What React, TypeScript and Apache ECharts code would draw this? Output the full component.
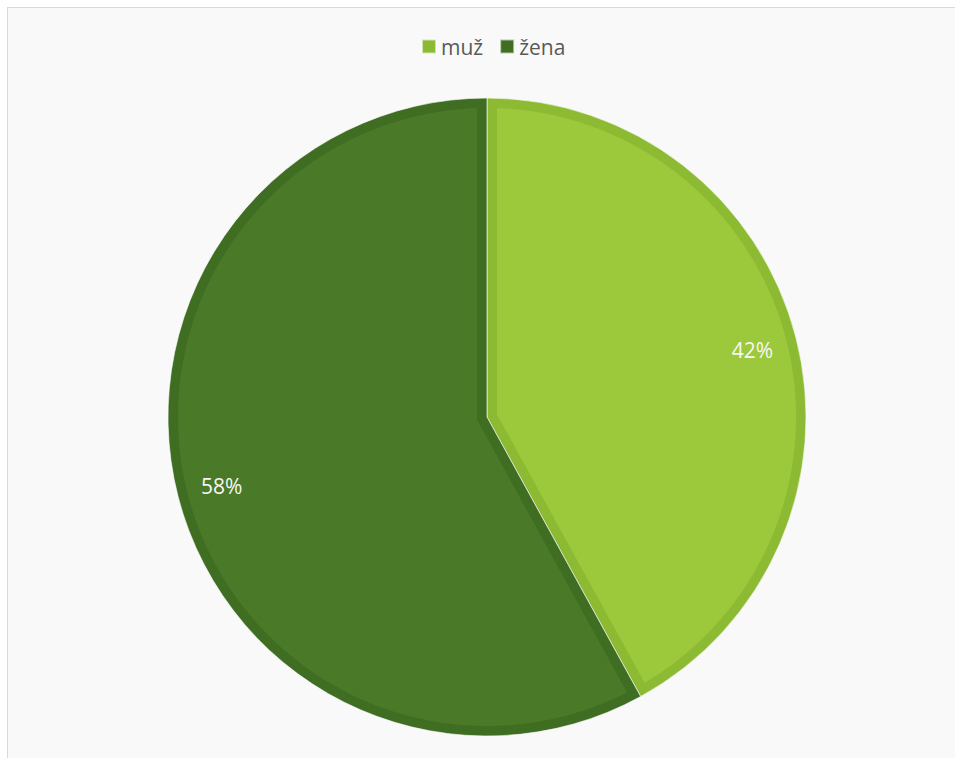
import React, { useEffect, useRef } from "react";
import * as echarts from "echarts";

const categories = ["muž", "žena"];
const values = [42, 58];
const edgeColors = ["#8cba33", "#3f6d22"];
const faceColors = ["#9bc93b", "#4a7a28"];

const CX = 487;
const CY = 417;
const R = 319;
const INSET = 10;

function dir(a: number): [number, number] {
  return [Math.sin(a), -Math.cos(a)];
}

function buildFaces() {
  const total = values.reduce((s, v) => s + v, 0);
  const elements: any[] = [];
  let acc = 0;
  values.forEach((v, i) => {
    const a1 = (acc / total) * Math.PI * 2;
    const a2 = ((acc + v) / total) * Math.PI * 2;
    acc += v;
    const theta = a2 - a1;
    const b = (a1 + a2) / 2;
    const vd = INSET / Math.sin(theta / 2);
    const bd = dir(b);
    const V: [number, number] = [bd[0] * vd, bd[1] * vd];
    const Rp = R - INSET;
    const hit = (u: [number, number]) => {
      const vu = V[0] * u[0] + V[1] * u[1];
      const vv = V[0] * V[0] + V[1] * V[1];
      const t = -vu + Math.sqrt(vu * vu - vv + Rp * Rp);
      return [V[0] + t * u[0], V[1] + t * u[1]];
    };
    const P1 = hit(dir(a1));
    const P2 = hit(dir(a2));
    const g1 = Math.atan2(P1[0], -P1[1]);
    let g2 = Math.atan2(P2[0], -P2[1]);
    while (g2 <= g1) g2 += Math.PI * 2;
    const pts: number[][] = [[CX + V[0], CY + V[1]]];
    const n = 240;
    for (let k = 0; k <= n; k++) {
      const g = g1 + ((g2 - g1) * k) / n;
      const d = dir(g);
      pts.push([CX + d[0] * Rp, CY + d[1] * Rp]);
    }
    elements.push({
      type: "polygon",
      shape: { points: pts },
      style: { fill: faceColors[i] },
      silent: true,
      z: 10,
    });
    const lr = 274;
    elements.push({
      type: "text",
      x: CX + bd[0] * lr,
      y: CY + bd[1] * lr + 1,
      z: 11,
      style: {
        text: `${v}%`,
        fill: "#f6f6f6",
        fontSize: 21,
        fontFamily: "Open Sans, Noto Sans, sans-serif",
        align: "center",
        verticalAlign: "middle",
      },
    });
  });
  return elements;
}

export default function App() {
  const ref = useRef<HTMLDivElement>(null);
  useEffect(() => {
    if (!ref.current) return;
    const chart = echarts.init(ref.current, null, { renderer: "svg" });
    chart.setOption({
      animation: false,
      backgroundColor: "transparent",
      legend: {
        data: categories,
        left: 416,
        top: 31,
        icon: "rect",
        itemWidth: 14,
        itemHeight: 14,
        itemGap: 16,
        textStyle: {
          fontSize: 21,
          color: "#595959",
          fontFamily: "Open Sans, Noto Sans, sans-serif",
        },
      },
      series: [
        {
          type: "pie",
          center: [CX, CY],
          radius: [0, R],
          startAngle: 90,
          clockwise: true,
          label: { show: false },
          labelLine: { show: false },
          silent: true,
          itemStyle: { borderColor: "rgba(255,255,255,0.6)", borderWidth: 1 },
          data: categories.map((name, i) => ({
            name,
            value: values[i],
            itemStyle: { color: edgeColors[i] },
          })),
        },
      ],
      graphic: buildFaces(),
    });
    return () => chart.dispose();
  }, []);

  return (
    <>
      <div
        style={{
          position: "fixed",
          left: 7,
          top: 7,
          width: 1000,
          height: 800,
          border: "1px solid #d9d9d9",
          background: "#f9f9f9",
        }}
      />
      <div
        ref={ref}
        style={{ position: "fixed", left: 0, top: 0, width: 955, height: 758 }}
      />
    </>
  );
}
